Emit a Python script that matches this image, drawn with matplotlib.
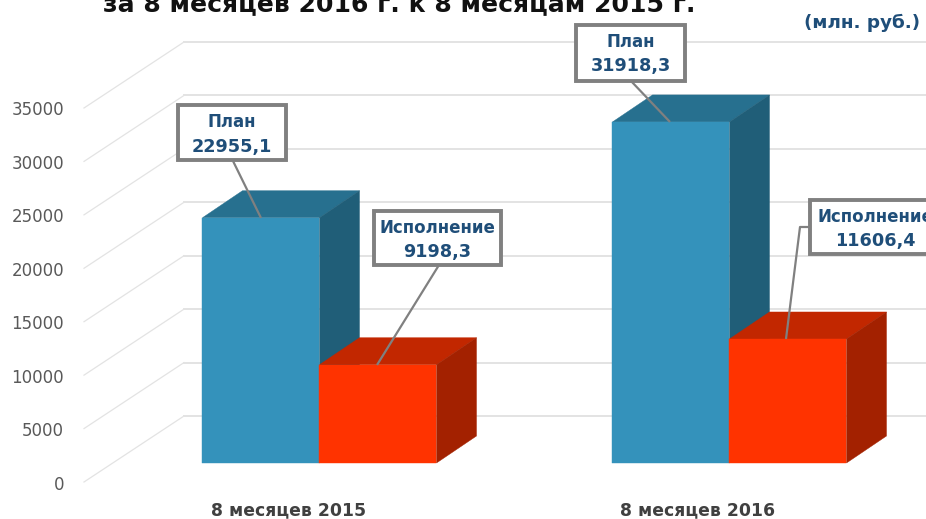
#!/usr/bin/env python3
import matplotlib
matplotlib.use('Agg')
import matplotlib.pyplot as plt
from matplotlib.patches import Polygon, Rectangle

categories = ["8 месяцев 2015", "8 месяцев 2016"]
plan = [22955.1, 31918.3]
fact = [9198.3, 11606.4]
plan_text = ["22955,1", "31918,3"]
fact_text = ["9198,3", "11606,4"]
yticks = [0, 5000, 10000, 15000, 20000, 25000, 30000, 35000]

title = "за 8 месяцев 2016 г. к 8 месяцам 2015 г."
units = "(млн. руб.)"

W, H = 926, 519
PX_GROUP = 410.0          # pixels between the two groups
PX_VALUE = 374.0 / 35000  # pixels per rouble unit
X0, Y0 = 319.5, 463.0     # pixel of first group centre at value 0

TEXT = "#1f4e79"
GRID = "#e3e3e3"
BORDER = "#808080"


def px(x, y):
    # pixel position (from top left) to data coordinates
    return (x - X0) / PX_GROUP, (Y0 - y) / PX_VALUE


def dx(p):
    return p / PX_GROUP


def dv(p):
    return p / PX_VALUE


fig = plt.figure(figsize=(W / 100, H / 100), dpi=100, facecolor="white")
ax = fig.add_axes([0, 0, 1, 1])
xl, yl = px(0, 0)[0], px(W, H)[0]
ax.set_xlim(xl, yl)
ax.set_ylim(px(0, H)[1], px(0, 0)[1])
ax.axis("off")

# walls of the 3d box
left_x = px(84, 0)[0]
wall_x = px(184, 0)[0]
right_x = px(W, 0)[0]
for v in yticks:
    ax.plot([left_x, wall_x], [v - dv(19), v + dv(47)], color=GRID, lw=0.9, zorder=1)
    ax.plot([wall_x, right_x], [v + dv(47), v + dv(47)], color=GRID, lw=1.4, zorder=1)
    ax.text(px(64, 0)[0], v - dv(21.5), "%d" % v, ha="right", va="center",
            fontsize=12, color="#595959", zorder=5)


def bar3d(x, w, v, front, top, side, z):
    ddx, ddv = dx(40), dv(27)
    ax.add_patch(Polygon([(x, v), (x + w, v), (x + w + ddx, v + ddv), (x + ddx, v + ddv)],
                         closed=True, fc=top, ec=top, lw=0.3, zorder=z))
    ax.add_patch(Polygon([(x + w, 0), (x + w + ddx, ddv), (x + w + ddx, v + ddv), (x + w, v)],
                         closed=True, fc=side, ec=side, lw=0.3, zorder=z))
    ax.bar(x, v, w, align="edge", color=front, edgecolor=front, linewidth=0.3, zorder=z + 0.2)


bar_w = dx(117)
for i in range(len(categories)):
    bar3d(i - bar_w, bar_w, plan[i], "#3492bb", "#27708f", "#205e78", 2)
    bar3d(i, bar_w, fact[i], "#ff3300", "#c22700", "#a32100", 3)


def callout(box, name, val, line):
    x0, y0, x1, y1 = box
    lx, ly = zip(*[px(*p) for p in line])
    ax.plot(lx, ly, color=BORDER, lw=1.6, zorder=6, solid_capstyle="butt")
    a = px(x0, y1)
    b = px(x1, y0)
    ax.add_patch(Rectangle(a, b[0] - a[0], b[1] - a[1], fc="white", ec=BORDER,
                           lw=2.8, zorder=7, clip_on=False))
    cx = (x0 + x1) / 2
    if x1 > W:
        cx = 875
    for t, yy, fs in ((name, y0 + 17, 12), (val, y0 + 41.5, 12.7)):
        tx, ty = px(cx, yy)
        ax.text(tx, ty, t, ha="center", va="center", fontsize=fs, fontweight="bold",
                color=TEXT, zorder=8)


callout((178.5, 105.5, 286, 160.5), "План", plan_text[0], [(233, 161), (261, 218)])
callout((374, 211, 501, 265), "Исполнение", fact_text[0], [(439, 265), (377, 365)])
callout((576, 25, 685, 81), "План", plan_text[1], [(631, 81), (670, 122)])
callout((810, 200, 940, 254), "Исполнение", fact_text[1], [(810, 227), (800, 227), (786, 339)])

# texts around the chart
tx, ty = px(399, 4)
ax.text(tx, ty, title, ha="center", va="center", fontsize=18.1, fontweight="bold", color="#111111")
tx, ty = px(862, 23)
ax.text(tx, ty, units, ha="center", va="center", fontsize=13.2, fontweight="bold", color=TEXT)
for i, c in enumerate(categories):
    tx, ty = px(289 + i * 409, 510)
    ax.text(tx, ty, c, ha="center", va="center", fontsize=12.4, fontweight="bold", color="#404040")

fig.savefig("out.png", dpi=100)
